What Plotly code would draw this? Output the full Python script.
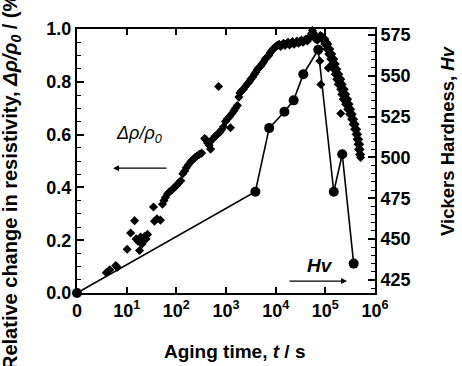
import plotly.graph_objects as go
import numpy as np

# ---------------- data ----------------
# Vickers hardness (right axis). Time in seconds; t = 0 is drawn at the "0" tick (10^0 position).
hv_time_s = [0, 3900, 7400, 15000, 23000, 36000, 72000, 148000, 219000, 372000]
hv_value = [417, 479, 518, 528, 535, 551, 566, 479, 502, 435]

# Relative change in resistivity (left axis); time given as log10(t / s)
rho_log_t = [
    0.59, 0.66, 0.78, 0.81, 1.01, 1.08, 1.16, 1.19, 1.23, 1.26, 1.28, 1.31, 1.33, 1.36, 1.39, 1.42,
    1.54, 1.56, 1.61, 1.68, 1.72, 1.75, 1.78, 1.82, 1.86, 1.91, 1.96, 2.01, 2.05, 2.09, 2.13, 2.17,
    2.20, 2.24, 2.29, 2.33, 2.37, 2.41, 2.46, 2.51, 2.57, 2.60, 2.63, 2.66, 2.69, 2.73, 2.78, 2.82,
    2.85, 2.87, 2.91, 2.95, 2.99, 3.03, 3.07, 3.09, 3.12, 3.16, 3.19, 3.23, 3.26, 3.28, 3.31, 3.35,
    3.39, 3.43, 3.47, 3.50, 3.54, 3.57, 3.60, 3.63, 3.66, 3.70, 3.73, 3.76, 3.79, 3.82, 3.86, 3.89,
    3.92, 3.95, 3.98, 4.01, 4.04, 4.07, 4.10, 4.13, 4.16, 4.19, 4.22, 4.25, 4.28, 4.31, 4.34, 4.37,
    4.40, 4.43, 4.46, 4.49, 4.52, 4.55, 4.58, 4.61, 4.64, 4.67, 4.70, 4.72, 4.74, 4.76, 4.78, 4.80,
    4.82, 4.84, 4.86, 4.89, 4.91, 4.90, 4.94, 4.98, 5.02,
    4.93, 4.96, 4.99, 4.99, 5.02, 5.05, 5.03, 5.06, 5.09, 5.07, 5.10, 5.13, 5.11, 5.14, 5.17,
    5.14, 5.17, 5.20, 5.17, 5.20, 5.23, 5.20, 5.235, 5.27, 5.23, 5.27, 5.31, 5.26, 5.30, 5.34,
    5.31, 5.345, 5.38, 5.33, 5.37, 5.41, 5.36, 5.405, 5.45, 5.41, 5.445, 5.48, 5.45, 5.48, 5.51,
    5.49, 5.515, 5.54, 5.53, 5.55, 5.57, 5.56, 5.58, 5.60, 5.59, 5.61, 5.63, 5.62, 5.635, 5.65,
    5.64, 5.655, 5.67, 5.66, 5.675, 5.69, 5.67, 5.685, 5.70, 5.69, 5.70, 5.71, 5.71,
    5.06, 5.31,
]
rho_value = [
    0.077, 0.088, 0.104, 0.098, 0.166, 0.227, 0.274, 0.205, 0.196, 0.161, 0.212, 0.186, 0.200, 0.214, 0.205, 0.222,
    0.326, 0.272, 0.281, 0.276, 0.336, 0.350, 0.362, 0.375, 0.383, 0.390, 0.400, 0.408, 0.418, 0.425, 0.452, 0.462,
    0.474, 0.485, 0.497, 0.505, 0.512, 0.518, 0.525, 0.530, 0.585, 0.580, 0.568, 0.560, 0.545, 0.582, 0.594, 0.600,
    0.782, 0.608, 0.618, 0.630, 0.650, 0.660, 0.668, 0.626, 0.680, 0.690, 0.700, 0.710, 0.742, 0.758, 0.765, 0.772,
    0.782, 0.792, 0.800, 0.810, 0.818, 0.828, 0.836, 0.846, 0.853, 0.860, 0.868, 0.876, 0.886, 0.892, 0.900, 0.910,
    0.918, 0.924, 0.930, 0.935, 0.938, 0.942, 0.934, 0.940, 0.946, 0.938, 0.944, 0.950, 0.940, 0.946, 0.952, 0.942,
    0.948, 0.954, 0.946, 0.952, 0.958, 0.950, 0.956, 0.962, 0.955, 0.965, 0.972, 0.982, 0.994, 0.985, 0.972, 0.962,
    0.968, 0.958, 0.965, 0.879, 0.790, 0.975, 0.970, 0.955, 0.950,
    0.962, 0.962, 0.962, 0.943, 0.943, 0.943, 0.924, 0.924, 0.924, 0.905, 0.905, 0.905, 0.886, 0.886, 0.886,
    0.867, 0.867, 0.867, 0.848, 0.848, 0.848, 0.829, 0.829, 0.829, 0.810, 0.810, 0.810, 0.791, 0.791, 0.791,
    0.772, 0.772, 0.772, 0.753, 0.753, 0.753, 0.734, 0.734, 0.734, 0.715, 0.715, 0.715, 0.696, 0.696, 0.696,
    0.677, 0.677, 0.677, 0.658, 0.658, 0.658, 0.639, 0.639, 0.639, 0.620, 0.620, 0.620, 0.601, 0.601, 0.601,
    0.582, 0.582, 0.582, 0.563, 0.563, 0.563, 0.544, 0.544, 0.544, 0.525, 0.525, 0.525, 0.513,
    0.852, 0.680,
]

x_tick_vals = [1, 10, 100, 1000, 10000, 100000, 1000000]
x_tick_text = ["0", "10<sup>1</sup>", "10<sup>2</sup>", "10<sup>3</sup>", "10<sup>4</sup>",
               "10<sup>5</sup>", "10<sup>6</sup>"]
y_left_ticks = [0.0, 0.2, 0.4, 0.6, 0.8, 1.0]
y_right_ticks = [425, 450, 475, 500, 525, 550, 575]

# ---------------- figure ----------------
FONT = "Liberation Sans, Arial, sans-serif"
rho_t = 10 ** np.array(rho_log_t)
hv_t_plot = [t if t > 0 else 1 for t in hv_time_s]  # t = 0 sits at the "0" tick

fig = go.Figure()
fig.add_trace(go.Scatter(
    x=rho_t, y=rho_value, mode="markers",
    marker=dict(symbol="diamond", size=7, color="black", line=dict(width=0)),
    yaxis="y", cliponaxis=False, showlegend=False))
fig.add_trace(go.Scatter(
    x=hv_t_plot, y=hv_value, mode="lines+markers",
    line=dict(color="black", width=1.6),
    marker=dict(symbol="circle", size=10, color="black"),
    yaxis="y2", cliponaxis=False, showlegend=False))

axis_common = dict(showline=True, linecolor="black", linewidth=2, ticks="inside",
                   tickcolor="black", tickwidth=1.5, showgrid=False, zeroline=False,
                   tickfont=dict(family=FONT, size=18, color="black", weight="bold"))

fig.update_layout(
    width=462, height=366,
    margin=dict(l=77, r=87, t=29, b=73),
    paper_bgcolor="white", plot_bgcolor="white",
    font=dict(family=FONT, size=18, color="black"),
    xaxis=dict(type="log", range=[0, 6], tickvals=x_tick_vals, ticktext=x_tick_text,
               ticklen=6, mirror="ticks", **axis_common),
    yaxis=dict(range=[0, 1.0], tickvals=y_left_ticks, ticktext=["%.1f" % v for v in y_left_ticks],
               ticklen=7, minor=dict(dtick=0.05, ticklen=4, ticks="inside", tickcolor="black", tickwidth=1.2),
               **axis_common),
    yaxis2=dict(range=[417, 578.7], overlaying="y", side="right", tickvals=y_right_ticks,
                ticklen=7, minor=dict(dtick=5, ticklen=4, ticks="inside", tickcolor="black", tickwidth=1.2),
                **axis_common),
)

centered = dict(xref="paper", yref="paper", xanchor="center", yanchor="middle")
annots = [
    # axis titles
    dict(text="Aging time, <i>t</i> / s", x=0.53, y=-0.22, showarrow=False,
         font=dict(family=FONT, size=19, color="black", weight="bold"), **centered),
    dict(text="Relative change in resistivity, <i>Δρ/ρ<sub>0</sub></i> / (%)", x=-0.222, y=0.435,
         textangle=-90, showarrow=False,
         font=dict(family=FONT, size=20, color="black", weight="bold"), **centered),
    dict(text="Vickers Hardness, <i>Hv</i>", x=1.245, y=0.576, textangle=-90, showarrow=False,
         font=dict(family=FONT, size=18.5, color="black", weight="bold"), **centered),
    # series labels and arrows
    dict(text="<i>Δρ/ρ<sub>0</sub></i>", x=0.207, y=0.60, showarrow=False,
         font=dict(family=FONT, size=18, color="black"), **centered),
    dict(text="", x=0.121, y=0.473, xref="paper", yref="paper", showarrow=True,
         ax=55, ay=0, arrowhead=2, arrowsize=1, arrowwidth=1.2, arrowcolor="black"),
    dict(text="<i>Hv</i>", x=0.815, y=0.106, showarrow=False,
         font=dict(family=FONT, size=19, color="black", weight="bold"), **centered),
    dict(text="", x=0.906, y=0.045, xref="paper", yref="paper", showarrow=True,
         ax=-59, ay=0, arrowhead=2, arrowsize=1, arrowwidth=1.2, arrowcolor="black"),
]
fig.update_layout(annotations=annots)

fig.write_html("out.html")
